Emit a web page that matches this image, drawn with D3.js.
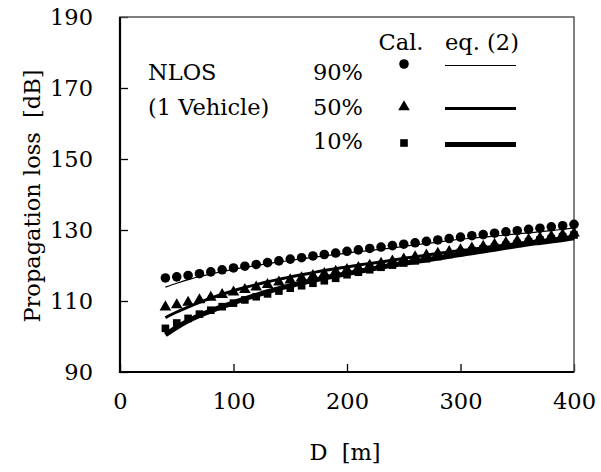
<!DOCTYPE html>
<html>
<head>
<meta charset="utf-8">
<script src="https://cdn.jsdelivr.net/npm/d3@7"></script>
<style>
  body { margin: 0; background: #fff; }
</style>
</head>
<body>
<svg id="chart" width="601" height="472"></svg>
<script>
// distance [m]
const distances = [40, 50, 60, 70, 80, 90, 100, 110, 120, 130, 140, 150, 160, 170, 180, 190,
  200, 210, 220, 230, 240, 250, 260, 270, 280, 290, 300, 310, 320, 330, 340, 350, 360, 370, 380, 390, 400];

// calculated loss (markers)
const cal90 = [116.5, 116.8, 117.2, 117.7, 118.2, 118.8, 119.3, 119.8, 120.3, 120.8, 121.3, 121.8,
  122.2, 122.7, 123.1, 123.5, 124.0, 124.4, 124.8, 125.2, 125.6, 126.0, 126.4, 126.8, 127.2, 127.6,
  128.0, 128.4, 128.7, 129.1, 129.5, 129.8, 130.2, 130.5, 130.9, 131.2, 131.6];
const cal50 = [108.3, 108.9, 109.6, 110.3, 111.0, 111.8, 112.5, 113.2, 113.9, 114.6, 115.3, 115.9,
  116.5, 117.1, 117.7, 118.3, 118.8, 119.4, 120.0, 120.6, 121.2, 121.8, 122.4, 122.9, 123.4, 123.9,
  124.4, 124.9, 125.4, 125.9, 126.4, 126.9, 127.3, 127.8, 128.2, 128.7, 129.1];
const cal10 = [102.3, 103.8, 105.1, 106.3, 107.4, 108.4, 109.4, 110.3, 111.2, 112.0, 112.8, 113.6,
  114.3, 115.0, 115.7, 116.4, 117.4, 118.1, 118.8, 119.5, 120.1, 120.7, 121.3, 121.9, 122.5, 123.1,
  123.7, 124.2, 124.7, 125.2, 125.7, 126.2, 126.7, 127.2, 127.6, 128.1, 128.6];

// eq. (2) curves
const eq90 = [113.9, 115.0, 116.0, 116.9, 117.6, 118.3, 118.9, 119.5, 120.0, 120.5, 121.0, 121.4,
  121.9, 122.3, 122.7, 123.1, 123.5, 123.9, 124.2, 124.6, 124.9, 125.4, 125.8, 126.2, 126.6, 127.0,
  127.4, 127.7, 128.0, 128.3, 128.6, 128.9, 129.2, 129.5, 129.8, 130.2, 130.6];
const eq50 = [105.3, 106.9, 108.3, 109.6, 110.8, 111.9, 112.9, 113.8, 114.6, 115.4, 116.1, 116.8,
  117.4, 118.0, 118.6, 119.1, 119.6, 120.1, 120.6, 121.0, 121.5, 122.0, 122.5, 122.9, 123.4, 123.8,
  124.2, 124.6, 125.0, 125.4, 125.8, 126.2, 126.6, 127.0, 127.4, 127.8, 128.2];
const eq10 = [100.5, 102.6, 104.4, 105.9, 107.2, 108.4, 109.5, 110.6, 111.6, 112.6, 113.5, 114.3,
  115.1, 115.8, 116.5, 117.1, 117.7, 118.3, 118.9, 119.5, 120.1, 120.6, 121.1, 121.6, 122.1, 122.6,
  123.1, 123.6, 124.1, 124.6, 125.1, 125.6, 126.1, 126.5, 126.9, 127.3, 127.8];

const seriesLabels = ["90%", "50%", "10%"];
const xTicks = [0, 100, 200, 300, 400];
const yTicks = [90, 110, 130, 150, 170, 190];

const svg = d3.select("#chart");
const FONT = 22.5;
const FAMILY = '"DejaVu Serif", "Liberation Serif", "Times New Roman", Times, serif';

// plot box
const x = d3.scaleLinear().domain([0, 400]).range([120, 574]);
const y = d3.scaleLinear().domain([90, 190]).range([372, 17]);

/***** AXES *****/
svg.append("g")
    .attr("transform", `translate(${x(0)},0)`)
    .call(d3.axisLeft(y).tickValues(yTicks).tickSizeInner(-8).tickSizeOuter(0).tickPadding(27))
    .attr("font-family", FAMILY)
    .attr("font-size", FONT)
    .call(g => g.select(".domain").remove())
    .call(g => g.selectAll("line").attr("stroke", "#000").attr("stroke-width", 1.3));

svg.append("g")
    .attr("transform", `translate(0,${y(90)})`)
    .call(d3.axisBottom(x).tickValues(xTicks).tickSizeInner(-8).tickSizeOuter(0).tickPadding(21))
    .attr("font-family", FAMILY)
    .attr("font-size", FONT)
    .call(g => g.select(".domain").remove())
    .call(g => g.selectAll("line").attr("stroke", "#000").attr("stroke-width", 1.3));

// frame: top/right grey, left/bottom black
svg.append("rect")
    .attr("x", x(0)).attr("y", y(190))
    .attr("width", x(400) - x(0)).attr("height", y(90) - y(190))
    .attr("fill", "none").attr("stroke", "#555").attr("stroke-width", 1.5);
svg.append("path")
    .attr("d", `M${x(0)},${y(190)}V${y(90)}H${x(400)}`)
    .attr("fill", "none").attr("stroke", "#000").attr("stroke-width", 2.2);

// axis titles
svg.append("text")
    .attr("x", 345).attr("y", 460)
    .attr("text-anchor", "middle")
    .attr("font-family", FAMILY)
    .attr("font-size", FONT)
    .style("white-space", "pre")
    .text("D  [m]");

svg.append("text")
    .attr("transform", "translate(40,196) rotate(-90)")
    .attr("text-anchor", "middle")
    .attr("font-family", FAMILY)
    .attr("font-size", FONT)
    .style("white-space", "pre")
    .text("Propagation loss  [dB]");

/***** CURVES & MARKERS *****/
const eqSeries = [eq90, eq50, eq10];
const calSeries = [cal90, cal50, cal10];
const lineWidths = [1.2, 3, 5];
const symbols = [d3.symbolCircle, d3.symbolTriangle, d3.symbolSquare];
const symSizes = [72, 58, 58];

const line = d3.line()
    .x((d, i) => x(distances[i]))
    .y(d => y(d))
    .curve(d3.curveMonotoneX);

const plot = svg.append("g");

eqSeries.forEach((s, k) => {
    plot.append("path")
        .datum(s)
        .attr("d", line)
        .attr("fill", "none")
        .attr("stroke", "#000")
        .attr("stroke-width", lineWidths[k]);
});

calSeries.forEach((s, k) => {
    plot.selectAll(".pt" + k)
        .data(s)
        .enter()
        .append("path")
        .attr("class", "pt" + k)
        .attr("transform", (d, i) => `translate(${x(distances[i])},${y(d)})`)
        .attr("d", d3.symbol().type(symbols[k]).size(symSizes[k]))
        .attr("fill", "#000");
});

/***** LEGEND *****/
const legend = svg.append("g")
    .attr("font-family", FAMILY)
    .attr("font-size", FONT);

legend.append("text").attr("x", 148).attr("y", 80).text("NLOS");
legend.append("text").attr("x", 148).attr("y", 115).text("(1 Vehicle)");
legend.append("text").attr("x", 401).attr("y", 50).attr("text-anchor", "middle").text("Cal.");
legend.append("text").attr("x", 482).attr("y", 50).attr("text-anchor", "middle").text("eq. (2)");

const rowText = [80, 115, 149];
const rowMark = [64, 107, 143];

seriesLabels.forEach((lab, k) => {
    legend.append("text")
        .attr("x", 363).attr("y", rowText[k])
        .attr("text-anchor", "end")
        .text(lab);
    legend.append("path")
        .attr("transform", `translate(404,${rowMark[k]})`)
        .attr("d", d3.symbol().type(symbols[k]).size(symSizes[k]))
        .attr("fill", "#000");
    legend.append("line")
        .attr("x1", 445).attr("x2", 516)
        .attr("y1", rowMark[k] + 1.5).attr("y2", rowMark[k] + 1.5)
        .attr("stroke", "#000")
        .attr("stroke-width", lineWidths[k]);
});
</script>
</body>
</html>
